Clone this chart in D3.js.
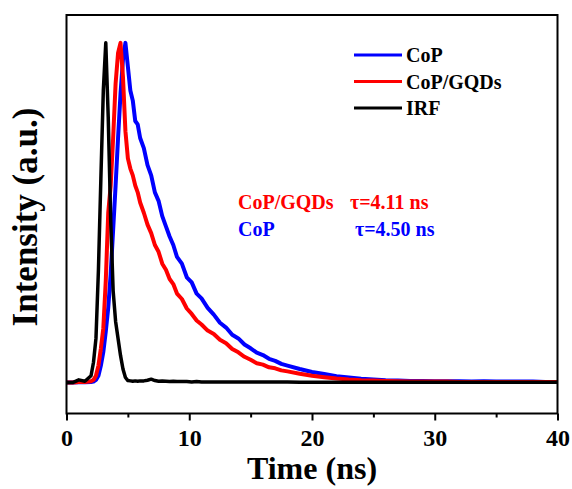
<!DOCTYPE html>
<html>
<head>
<meta charset="utf-8">
<script src="https://cdn.jsdelivr.net/npm/d3@7"></script>
<style>
  html, body { margin: 0; padding: 0; background: #fff; }
  text { font-family: "Liberation Serif", "Times New Roman", serif; font-weight: bold; }
</style>
</head>
<body>
<svg id="chart" width="572" height="489"></svg>
<script>
// time axis (ns), shared by every trace
var time = [0, 0.5, 1.0, 1.5, 2.0,
  2.2, 2.4, 2.6, 2.8, 3.0, 3.2, 3.4, 3.6, 3.8, 4.0, 4.2, 4.4, 4.6, 4.8, 5.0,
  5.2, 5.4, 5.6, 5.8, 6.0,
  6.3, 6.6, 6.9, 7.2, 7.5, 7.8, 8.1, 8.4, 8.7, 9.0,
  9.4, 9.8, 10.2, 10.6, 11.0,
  11.5, 12.0, 12.5, 13.0, 13.5, 14.0, 14.5, 15.0, 15.5, 16.0, 16.5, 17.0, 17.5, 18.0,
  19, 20, 21, 22, 23, 24, 25, 26, 27, 28, 29, 30, 31, 32, 33, 34, 35, 36, 37, 38, 39, 40];

// normalised intensity
var cop = [0, 0, 0.001, 0.001, 0.002,
  0.003, 0.008, 0.02, 0.05, 0.09, 0.15, 0.22, 0.32, 0.45, 0.58, 0.72, 0.85, 0.95, 1.0, 0.93,
  0.86, 0.83, 0.77, 0.76, 0.72,
  0.69, 0.64, 0.61, 0.56, 0.535, 0.49, 0.46, 0.43, 0.405, 0.37,
  0.35, 0.31, 0.295, 0.262, 0.248,
  0.22, 0.2, 0.176, 0.162, 0.141, 0.13, 0.112, 0.101, 0.088, 0.081, 0.07, 0.064, 0.055, 0.05,
  0.04, 0.031, 0.025, 0.019, 0.015, 0.011, 0.009, 0.007, 0.006, 0.005, 0.005, 0.004, 0.004, 0.004, 0.003, 0.004, 0.003, 0.003, 0.003, 0.003, 0.002, 0.002];

var copGqds = [0, 0, 0.002, 0.002, 0.004,
  0.008, 0.02, 0.05, 0.1, 0.16, 0.3, 0.5, 0.58, 0.72, 0.88, 0.97, 1.0, 0.9, 0.74, 0.66,
  0.63, 0.61, 0.58, 0.56, 0.53,
  0.5, 0.465, 0.44, 0.405, 0.385, 0.35, 0.332, 0.305, 0.29, 0.262,
  0.246, 0.218, 0.202, 0.183, 0.171, 0.153, 0.143, 0.126, 0.116, 0.099, 0.089, 0.076, 0.067, 0.057, 0.053, 0.045, 0.042, 0.036, 0.033,
  0.026, 0.02, 0.016, 0.012, 0.009, 0.007, 0.006, 0.005, 0.004, 0.003, 0.003, 0.003, 0.003, 0.002, 0.002, 0.002, 0.002, 0.002, 0.002, 0.002, 0.002, 0.002];

var irf = [0, 0, 0.008, 0.004, 0.02,
  0.06, 0.13, 0.33, 0.6, 0.86, 1.0, 0.78, 0.48, 0.27, 0.18, 0.13, 0.08, 0.04, 0.015, 0.006,
  0.005, 0.004, 0.005, 0.004, 0.005,
  0.005, 0.007, 0.01, 0.006, 0.004, 0.005, 0.004, 0.003, 0.004, 0.003,
  0.003, 0.003, 0.002, 0.003, 0.002,
  0.002, 0.002, 0.002, 0.002, 0.002, 0.002, 0.002, 0.002, 0.002, 0.002, 0.002, 0.002, 0.002, 0.002,
  0.001, 0.001, 0.001, 0.001, 0.001, 0.001, 0.001, 0.001, 0.001, 0.001, 0.001, 0.001, 0.001, 0.001, 0.001, 0.001, 0.001, 0.001, 0.001, 0.001, 0.001, 0.001];

var xTicks = [0, 10, 20, 30, 40];
var xMinorTicks = [5, 15, 25, 35];

var seriesNames = ['CoP', 'CoP/GQDs', 'IRF'];
var seriesColors = ['#0000ff', '#ff0000', '#000000'];
var seriesValues = [cop, copGqds, irf];

var lifetimeLabels = ['CoP/GQDs', 'CoP'];
var lifetimeValues = ['\u03c4=4.11 ns', '\u03c4=4.50 ns'];
var lifetimeColors = ['#ff0000', '#0000ff'];

var svg = d3.select('#chart');

var plot = {left: 66.5, right: 557.5, top: 15, bottom: 413.5};

var x = d3.scaleLinear().domain([0, 40]).range([plot.left, plot.right]);
var y = d3.scaleLinear().domain([-0.091, 1.082]).range([plot.bottom, plot.top]);

// traces: blue first, black IRF on top
var line = d3.line()
  .x(function(d) { return x(d[0]); })
  .y(function(d) { return y(d[1]); });

seriesValues.forEach(function(vals, i) {
  var pts = time.map(function(t, j) { return [t, vals[j]]; });
  svg.append('path')
    .datum(pts)
    .attr('fill', 'none')
    .attr('stroke', seriesColors[i])
    .attr('stroke-width', i === 2 ? 3.5 : 4)
    .attr('stroke-linejoin', 'round')
    .attr('d', line);
});

// frame
svg.append('rect')
  .attr('x', plot.left)
  .attr('y', plot.top)
  .attr('width', plot.right - plot.left)
  .attr('height', plot.bottom - plot.top)
  .attr('fill', 'none')
  .attr('stroke', '#000')
  .attr('stroke-width', 2);

// bottom axis, ticks hang outside
var xAxis = d3.axisBottom(x).tickValues(xTicks).tickSize(7).tickPadding(8).tickFormat(d3.format('d'));
var gx = svg.append('g')
  .attr('transform', 'translate(0,' + plot.bottom + ')')
  .call(xAxis);
gx.select('.domain').remove();
gx.selectAll('.tick line').attr('stroke-width', 2);
gx.selectAll('.tick text')
  .attr('font-size', 24)
  .attr('fill', '#000')
  .style('font-family', '"Liberation Serif", "Times New Roman", serif')
  .style('font-weight', 'bold');

var gxm = svg.append('g')
  .attr('transform', 'translate(0,' + plot.bottom + ')')
  .call(d3.axisBottom(x).tickValues(xMinorTicks).tickSize(4).tickFormat(''));
gxm.select('.domain').remove();
gxm.selectAll('.tick line').attr('stroke-width', 2);

// axis titles
svg.append('text')
  .attr('x', (plot.left + plot.right) / 2)
  .attr('y', 479)
  .attr('text-anchor', 'middle')
  .attr('font-size', 32)
  .text('Time (ns)');

svg.append('text')
  .attr('transform', 'translate(37,' + 217 + ') rotate(-90)')
  .attr('text-anchor', 'middle')
  .attr('font-size', 35)
  .text('Intensity (a.u.)');

// legend
var legend = svg.append('g');
seriesNames.forEach(function(name, i) {
  var ly = 55 + i * 26.5;
  legend.append('line')
    .attr('x1', 354).attr('x2', 402)
    .attr('y1', ly).attr('y2', ly)
    .attr('stroke', seriesColors[i])
    .attr('stroke-width', 3);
  legend.append('text')
    .attr('x', 406)
    .attr('y', ly + 7)
    .attr('font-size', 20)
    .text(name);
});

// lifetime annotations
lifetimeLabels.forEach(function(lbl, i) {
  var ty = 209 + i * 27;
  svg.append('text')
    .attr('x', 238).attr('y', ty)
    .attr('font-size', 20)
    .attr('fill', lifetimeColors[i])
    .text(lbl);
  svg.append('text')
    .attr('x', i === 0 ? 350 : 355).attr('y', ty)
    .attr('font-size', 20)
    .attr('fill', lifetimeColors[i])
    .text(lifetimeValues[i]);
});
</script>
</body>
</html>
